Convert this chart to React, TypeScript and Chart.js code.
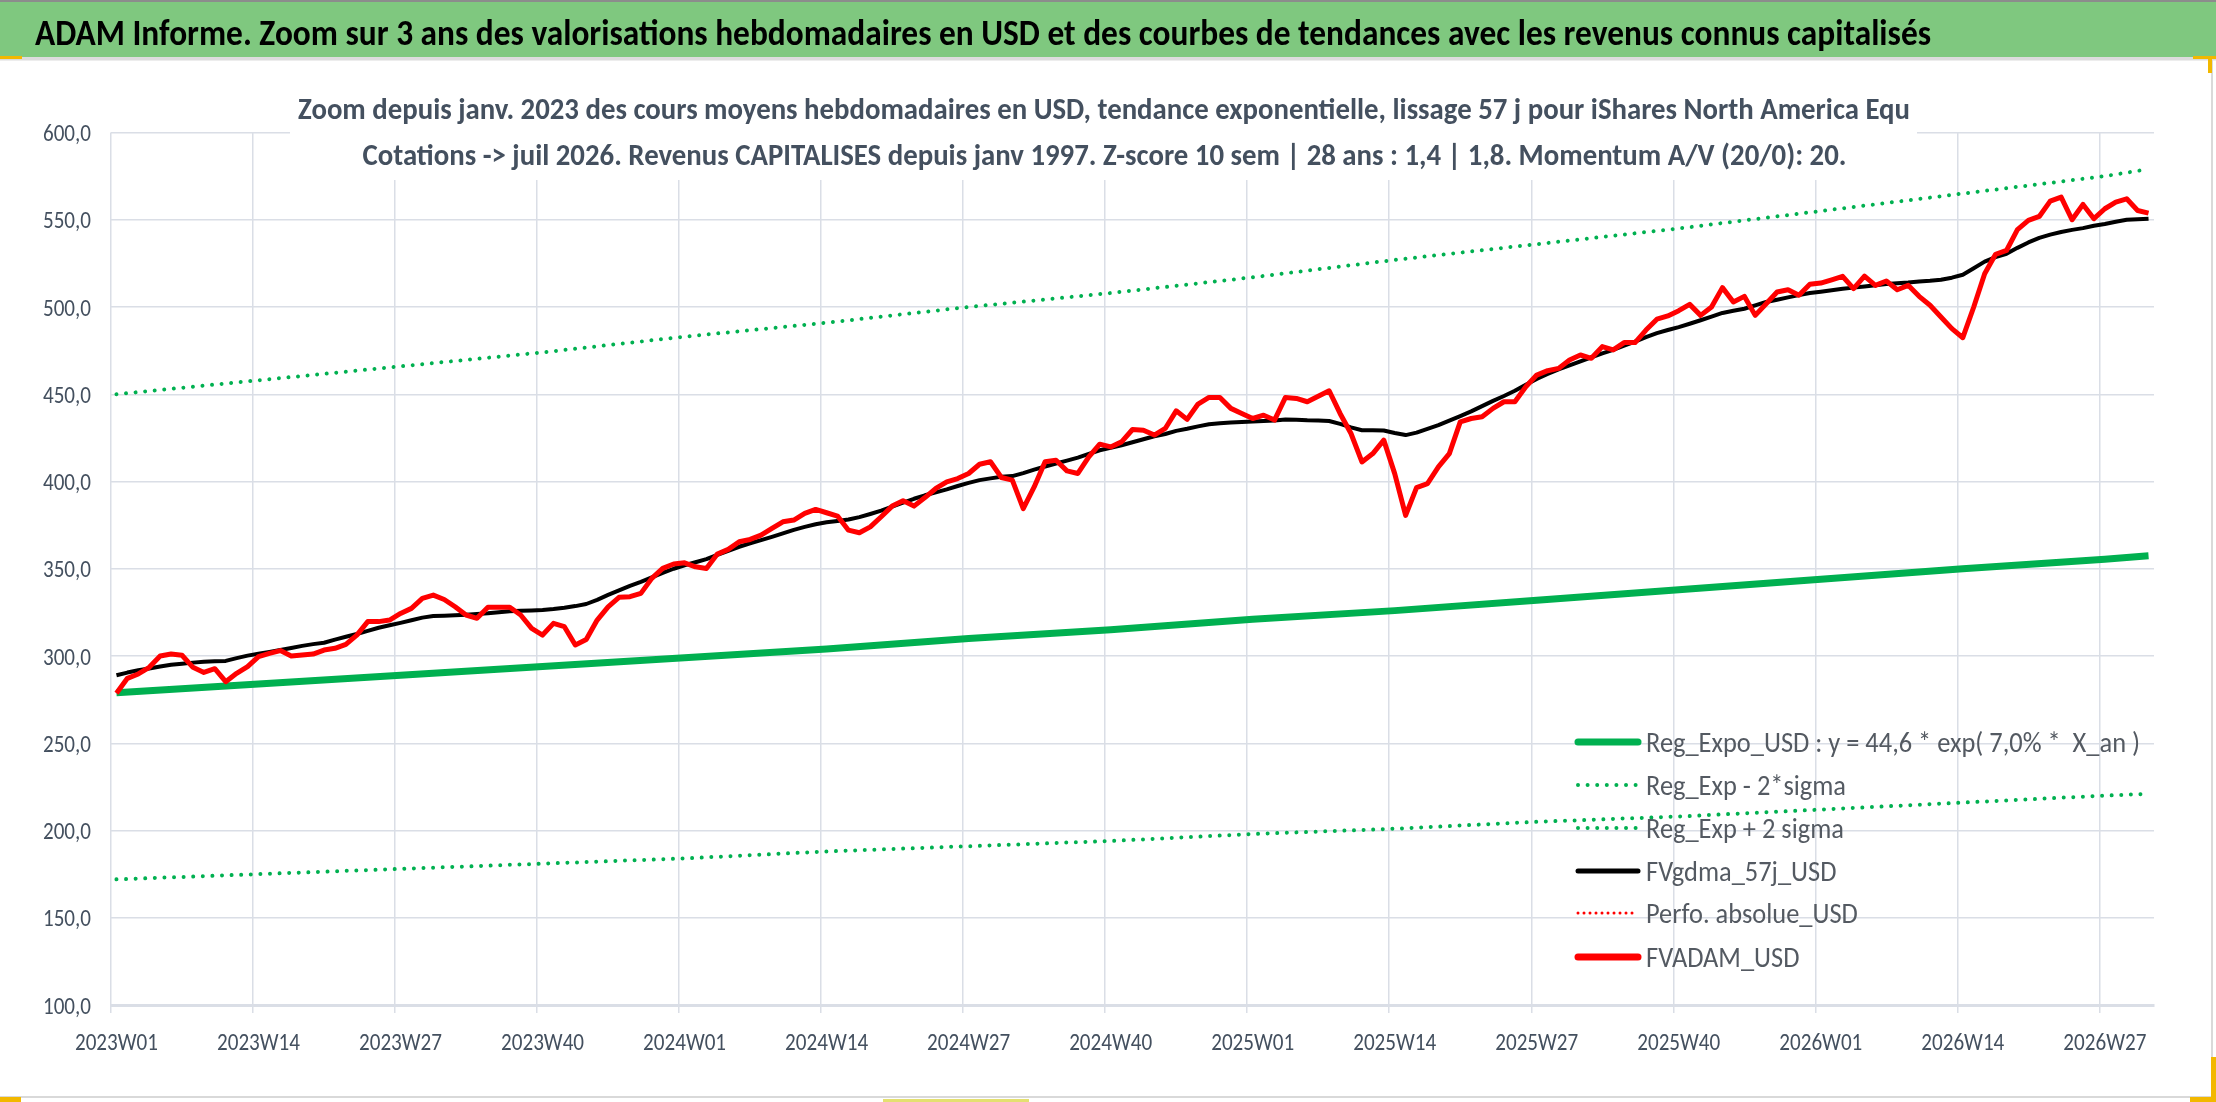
import React, { useEffect, useRef } from "react";
import { Chart, registerables } from "chart.js";

Chart.register(...registerables);

// ---------- categories ----------
const years = [2023, 2024, 2025, 2026];
const weeksPerYear = [52, 52, 52, 31];
const weekLabels: string[] = years.flatMap((y, k) =>
  Array.from({ length: weeksPerYear[k] }, (_, w) => `${y}W${String(w + 1).padStart(2, "0")}`)
);
const tickEvery = 13;
const yTicks = [100, 150, 200, 250, 300, 350, 400, 450, 500, 550, 600];

// ---------- FVADAM_USD (red), weekly ----------
const red2023 = [
  278.6, 287.2, 289.7, 293.5, 300.0, 301.1, 300.4, 293.5, 290.6, 292.7,
  285.3, 290.1, 293.9, 299.6, 301.5, 303.1, 300.0, 300.6, 301.1, 303.4,
  304.4, 306.7, 312.0, 319.7, 319.7, 320.6, 324.4, 327.3, 333.0, 334.9,
  332.4, 328.2, 323.5, 321.6, 327.9, 327.9, 327.9, 323.5, 315.8, 312.0,
  318.7, 316.8, 306.3, 309.5, 320.6, 328.2, 333.6, 334.0, 335.9, 344.5,
  350.2, 352.7,
];
const red2024 = [
  353.4, 351.1, 350.2, 358.4, 361.1, 365.5, 366.8, 369.3,
  373.1, 376.9, 377.9, 381.7, 384.0, 382.1, 380.2, 372.1, 370.6, 374.0,
  379.8, 385.9, 388.9, 385.9, 390.8, 396.0, 399.8, 401.7, 404.6, 409.9,
  411.3, 402.3, 400.8, 384.5, 396.9, 411.3, 412.2, 406.1, 404.6, 414.1,
  421.4, 419.8, 422.7, 429.8, 429.4, 426.6,
  430.4, 440.5, 435.6, 444.4, 448.2, 448.2, 441.9, 439.0,
];
const red2025 = [
  436.1, 438.0, 435.2, 448.2, 447.6, 445.7, 448.9, 452.0, 439.0, 427.5,
  411.2, 416.0, 423.7, 404.5, 380.6, 396.5, 398.8, 408.4, 416.0, 434.2,
  436.1, 437.1, 441.9, 445.7, 445.7, 454.3, 461.0, 463.5, 464.8, 469.6,
  472.5, 470.6, 477.3, 475.4, 479.6, 479.6, 486.8, 493.0, 494.9, 497.9,
  501.5, 495.2, 500.0, 511.1, 502.9, 506.1, 495.2, 501.9, 508.6, 509.9,
  506.7, 513.0,
];
const red2026 = [
  513.7, 515.6, 517.6, 510.5, 517.7, 512.4, 514.9, 509.9, 512.4, 506.1,
  501.0, 494.3, 487.6, 482.4, 500.0, 519.1, 530.2, 532.4, 544.3, 549.6,
  551.9, 560.7, 563.0, 550.0, 558.8, 550.6, 556.3, 560.1, 562.0, 555.3,
  553.8,
];

// ---------- FVgdma_57j_USD (black), weekly ----------
const black2023 = [
  289.0, 290.5, 291.8, 292.8, 294.0, 295.0, 295.6, 296.2, 296.7, 297.0,
  297.2, 298.8, 300.2, 301.3, 302.3, 303.4, 304.6, 305.8, 306.8, 307.6,
  309.4, 311.0, 312.6, 314.4, 316.2, 317.6, 319.0, 320.5, 322.0, 322.9,
  323.1, 323.4, 323.7, 324.1, 324.5, 325.1, 325.7, 325.9, 326.1, 326.4,
  326.9, 327.6, 328.6, 329.8, 332.2, 335.0, 337.6, 340.2, 342.5, 345.0,
  347.6, 350.0,
];
const black2024 = [
  352.0, 353.7, 355.5, 358.0, 360.3, 362.6, 364.6, 366.4, 368.3, 370.3,
  372.3, 374.0, 375.5, 376.6, 377.4, 378.2, 379.6, 381.4, 383.3, 385.6,
  387.9, 390.1, 392.1, 393.8, 395.5, 397.4, 399.2, 400.8, 401.8, 402.7,
  403.1, 404.8, 406.8, 408.6, 410.3, 412.0, 413.7, 415.8, 417.9, 419.3,
  420.8, 422.5, 424.2, 425.9, 427.2, 429.0, 430.2, 431.6, 432.8, 433.4,
  433.8, 434.1,
];
const black2025 = [
  434.4, 434.7, 435.0, 435.5, 435.4, 435.1, 435.0, 434.7, 433.0, 431.0,
  429.4, 429.4, 429.2, 427.8, 426.6, 428.0, 430.2, 432.3, 434.9, 437.5,
  440.2, 443.2, 446.2, 449.0, 452.0, 455.5, 458.8, 461.6, 464.2, 466.5,
  468.8, 471.1, 473.4, 475.4, 477.8, 480.2, 482.7, 485.0, 486.8, 488.5,
  490.4, 492.4, 494.5, 496.6, 497.8, 499.0, 500.9, 502.9, 504.2, 505.5,
  506.8, 508.0,
];
const black2026 = [
  508.8, 509.6, 510.4, 511.1, 511.8, 512.5, 513.2, 513.6, 514.0, 514.6,
  515.0, 515.6, 516.8, 518.5, 522.2, 526.0, 528.6, 530.5, 533.9, 537.0,
  539.6, 541.5, 543.0, 544.2, 545.2, 546.6, 547.6, 548.9, 550.0, 550.3,
  550.6,
];

// ---------- regression lines, read at each labelled week + last week ----------
const trendIdx = [0, 13, 26, 39, 52, 65, 78, 91, 104, 117, 130, 143, 156, 169, 182, 186];
const regExpo = [279, 284, 289, 294, 299, 304, 310, 315, 321, 326, 332, 338, 344, 350, 355.5, 357.5];
const regLow = [172, 175, 178, 181, 184, 188, 191, 194, 198, 201, 205, 208, 212, 216, 220, 221];
const regHigh = [450, 458, 466, 474, 483, 491, 500, 508, 517, 527, 536, 545, 555, 565, 575, 579];

// ---------- texts ----------
const headerText =
  "ADAM Informe. Zoom sur 3 ans des valorisations hebdomadaires en USD et des courbes de tendances avec les revenus connus capitalisés";
const subTitle1 =
  "Zoom depuis janv. 2023 des cours moyens hebdomadaires en USD, tendance exponentielle, lissage 57 j pour iShares North America Equ";
const subTitle2 =
  "Cotations -> juil 2026. Revenus CAPITALISES depuis janv 1997. Z-score 10 sem | 28 ans : 1,4 | 1,8. Momentum A/V (20/0): 20.";

const GREEN = "#00b050";
const RED = "#ff0000";
const GRID = "#dadee6";
const TEXT = "#44505f";

const sparse = (vals: number[]) =>
  weekLabels.map((_, i) => {
    const k = trendIdx.indexOf(i);
    return k >= 0 ? vals[k] : null;
  });

const fmt = (v: number) => v.toFixed(1).replace(".", ",");

function pickFont(): string {
  const c = document.createElement("canvas").getContext("2d")!;
  const sample = "mmmmwwwiill2023W01";
  c.font = "40px monospace";
  const base = c.measureText(sample).width;
  for (const f of ["Carlito", "Lato", "Open Sans", "Liberation Sans"]) {
    c.font = `40px "${f}", monospace`;
    if (Math.abs(c.measureText(sample).width - base) > 0.5) return f;
  }
  return "sans-serif";
}

// draws text squeezed horizontally to a given width (the original uses a narrow font)
function fitText(
  ctx: CanvasRenderingContext2D, text: string, x: number, y: number,
  width: number, font: string, color: string, align: "left" | "center" | "right"
) {
  ctx.save();
  ctx.font = font;
  ctx.fillStyle = color;
  ctx.textAlign = "left";
  ctx.textBaseline = "alphabetic";
  const sx = width / ctx.measureText(text).width;
  const left = align === "center" ? x - width / 2 : align === "right" ? x - width : x;
  ctx.translate(left, y);
  ctx.scale(sx, 1);
  ctx.fillText(text, 0, 0);
  ctx.restore();
}

const App = () => {
  const canvasRef = useRef<HTMLCanvasElement | null>(null);
  const chartRef = useRef<Chart | null>(null);

  useEffect(() => {
    const ctx = canvasRef.current?.getContext("2d");
    if (!ctx) return;
    const fam = pickFont();

    const framePlugin = {
      id: "frame",
      beforeDraw(chart: Chart) {
        const c = chart.ctx;
        c.save();
        c.fillStyle = "#ffffff";
        c.fillRect(0, 0, chart.width, chart.height);
        c.fillStyle = "#7fc87f";
        c.fillRect(0, 0, chart.width, 57);
        c.fillStyle = "#8c8c8c";
        c.fillRect(0, 0, chart.width, 2);
        c.fillStyle = "#dcdcdc";
        c.fillRect(0, 57, chart.width, 3.5);
        c.strokeStyle = "#d9d9d9";
        c.lineWidth = 2;
        c.beginPath();
        c.moveTo(2212, 60);
        c.lineTo(2212, 1097);
        c.lineTo(0, 1097);
        c.stroke();
        // selection handles of the original capture
        c.fillStyle = "#f2b800";
        c.fillRect(0, 56, 22, 3);
        c.fillRect(2193, 56, 23, 3);
        c.fillRect(2208, 57, 4, 16);
        c.fillRect(0, 1097, 21, 5);
        c.fillRect(2190, 1097, 26, 5);
        c.fillRect(2211, 1057, 5, 45);
        c.fillStyle = "#e4e070";
        c.fillRect(883, 1099, 146, 3);
        c.restore();
        fitText(c, headerText, 35, 45, 1896, `bold 37px "${fam}"`, "#000000", "left");
      },
      beforeDatasetsDraw(chart: Chart) {
        const c = chart.ctx;
        const xs: any = chart.scales.x;
        const ys: any = chart.scales.y;
        // tick labels
        const tf = `24px "${fam}"`;
        c.save();
        c.font = tf;
        const sxX = 83 / c.measureText("2023W01").width;
        const sxY = 48 / c.measureText("100,0").width;
        c.fillStyle = TEXT;
        c.textBaseline = "alphabetic";
        for (let i = 0; i < weekLabels.length; i += tickEvery) {
          const px = xs.getPixelForValue(i);
          c.save();
          c.translate(px, 1050);
          c.scale(sxX, 1);
          c.textAlign = "center";
          c.fillText(weekLabels[i], 0, 0);
          c.restore();
        }
        yTicks.forEach((v) => {
          const py = ys.getPixelForValue(v);
          c.save();
          c.translate(91, py + 8.5);
          c.scale(sxY, 1);
          c.textAlign = "right";
          c.fillText(fmt(v), 0, 0);
          c.restore();
        });
        // white box behind the subtitle, as in the original
        c.fillStyle = "#ffffff";
        c.fillRect(290, 128, 1627, 52);
        c.restore();
        fitText(c, subTitle1, 1104, 119, 1612, `bold 30px "${fam}"`, TEXT, "center");
        fitText(c, subTitle2, 1104.5, 165, 1484, `bold 30px "${fam}"`, TEXT, "center");
      },
      afterDatasetsDraw(chart: Chart) {
        const c = chart.ctx;
        const font = `28px "${fam}"`;
        c.save();
        c.font = font;
        const sx = 494 / c.measureText(String(chart.data.datasets[0].label)).width;
        const rows = [742, 785, 828, 871, 913, 957];
        chart.data.datasets.forEach((ds: any, i: number) => {
          const y = rows[i];
          c.save();
          c.strokeStyle = ds.borderColor;
          c.lineWidth = ds.legendWidth ?? ds.borderWidth;
          c.lineCap = "round";
          c.setLineDash(ds.borderDash ?? []);
          c.beginPath();
          c.moveTo(1578, y);
          c.lineTo(1638, y);
          c.stroke();
          c.restore();
          c.save();
          c.font = font;
          c.fillStyle = "#545a62";
          c.translate(1646, y + 10);
          c.scale(sx, 1);
          c.fillText(String(ds.label), 0, 0);
          c.restore();
        });
        c.restore();
      },
    };

    chartRef.current = new Chart(ctx, {
      type: "line",
      data: {
        labels: weekLabels,
        datasets: [
          {
            label: "Reg_Expo_USD : y = 44,6 * exp( 7,0% *  X_an )",
            data: sparse(regExpo),
            borderColor: GREEN,
            borderWidth: 7,
            spanGaps: true,
            order: 5,
          },
          {
            label: "Reg_Exp - 2*sigma",
            data: sparse(regLow),
            borderColor: GREEN,
            borderWidth: 4,
            borderDash: [0.001, 9.6],
            borderCapStyle: "round",
            spanGaps: true,
            order: 4,
          },
          {
            label: "Reg_Exp + 2 sigma",
            data: sparse(regHigh),
            borderColor: GREEN,
            borderWidth: 4,
            borderDash: [0.001, 9.6],
            borderCapStyle: "round",
            spanGaps: true,
            order: 3,
          },
          {
            label: "FVgdma_57j_USD",
            data: [...black2023, ...black2024, ...black2025, ...black2026],
            borderColor: "#000000",
            borderWidth: 4,
            legendWidth: 5,
            order: 2,
          } as any,
          {
            label: "Perfo. absolue_USD",
            data: weekLabels.map(() => null),
            borderColor: RED,
            borderWidth: 3,
            borderDash: [0.001, 6],
            borderCapStyle: "round",
            order: 1,
          } as any,
          {
            label: "FVADAM_USD",
            data: [...red2023, ...red2024, ...red2025, ...red2026],
            borderColor: RED,
            borderWidth: 5,
            legendWidth: 7,
            order: 0,
          } as any,
        ],
      },
      options: {
        animation: false,
        responsive: true,
        maintainAspectRatio: false,
        layout: { padding: { top: 132.5, right: 62, bottom: 0, left: 0 } },
        elements: {
          point: { radius: 0, hoverRadius: 0 },
          line: { tension: 0, borderJoinStyle: "round", fill: false },
        },
        plugins: {
          legend: { display: false },
          title: { display: false },
          tooltip: { enabled: false },
        },
        scales: {
          x: {
            type: "category",
            offset: true,
            grid: {
              offset: true,
              lineWidth: 1.5,
              tickLength: 8,
              color: (c: any) => (c.index % tickEvery === 0 ? GRID : "rgba(0,0,0,0)"),
              tickColor: (c: any) => (c.index % tickEvery === 0 ? GRID : "rgba(0,0,0,0)"),
            },
            border: { color: GRID, width: 3 },
            ticks: { display: false, autoSkip: false, maxRotation: 0 },
            afterFit: (s: any) => {
              s.height = 97;
            },
          },
          y: {
            min: 100,
            max: 600,
            grid: { drawTicks: false, color: GRID, lineWidth: 1.5 },
            border: { display: false },
            ticks: { display: false, stepSize: 50 },
            afterFit: (s: any) => {
              s.width = 111;
            },
          },
        },
      },
      plugins: [framePlugin],
    } as any);

    return () => {
      chartRef.current?.destroy();
      chartRef.current = null;
    };
  }, []);

  return (
    <div style={{ position: "fixed", left: 0, top: 0, width: 2216, height: 1102, background: "#fff" }}>
      <canvas ref={canvasRef} />
    </div>
  );
};

export default App;
